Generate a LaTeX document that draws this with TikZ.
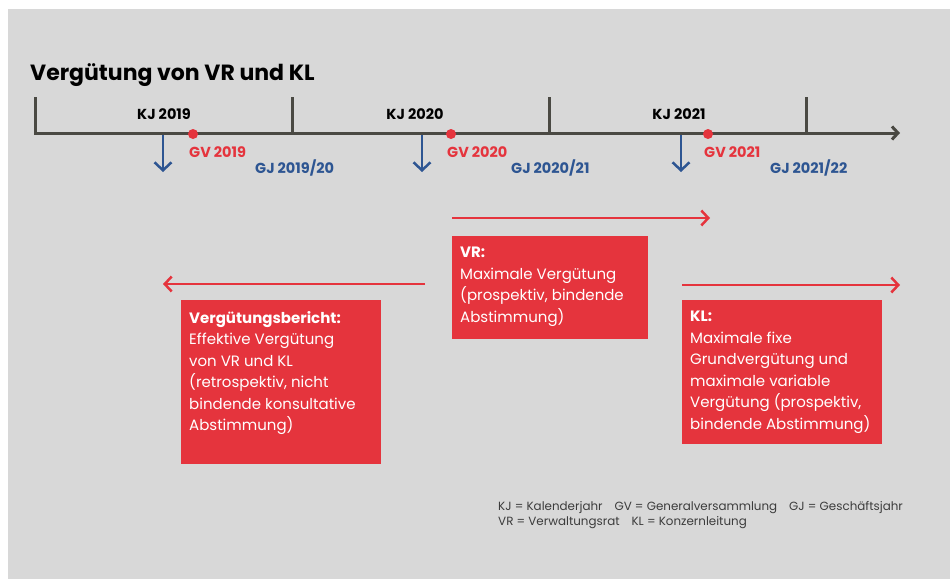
\documentclass[tikz,border=0pt]{standalone}
\usepackage{fontspec}
\setmainfont{Poppins}
\usetikzlibrary{arrows.meta,positioning}
\definecolor{bggrey}{HTML}{D8D8D8}
\definecolor{votered}{HTML}{E5343D}
\definecolor{gjblue}{HTML}{2D5592}
\definecolor{axisgrey}{HTML}{4A4943}
\definecolor{notegrey}{HTML}{3C3C3C}

\tikzset{
  axisline/.style={draw=axisgrey, line width=3pt},
  kjlabel/.style={font=\fontsize{14.5}{16}\selectfont\bfseries, anchor=base, inner sep=0pt},
  gvlabel/.style={text=votered, font=\fontsize{14.5}{16}\selectfont\bfseries, anchor=base west, inner sep=0pt},
  gjlabel/.style={text=gjblue, font=\fontsize{14.5}{16}\selectfont\bfseries, anchor=base west, inner sep=0pt},
  gvdot/.style={circle, fill=votered, inner sep=0pt, minimum size=10pt},
  gjarrow/.style={draw=gjblue, line width=2.5pt, -{Straight Barb[length=8pt,width=17pt]}},
  votearrow/.style={draw=votered, line width=2.5pt, -{Straight Barb[length=7pt,width=15pt]}},
  votebox/.style={fill=votered, inner sep=0pt, anchor=north west},
  votetext/.style={text=white, anchor=north west, align=left, inner sep=0pt, font=\fontsize{15}{21.5}\selectfont},
}

\begin{document}
\begin{tikzpicture}[x=1pt,y=-1pt]
  \useasboundingbox (0,0) rectangle (950,579);
  \fill[bggrey] (8,9) rectangle (950,579);

  \node[anchor=base west, inner sep=0pt, font=\fontsize{22}{26}\selectfont\bfseries] (title) at (30,80) {Vergütung von VR und KL};

  % time axis
  \coordinate (ax0) at (35,133);
  \coordinate (axend) at (900,133);
  \draw[axisline, -{Straight Barb[length=6pt,width=13pt]}] (ax0) -- (axend);
  \foreach \i/\x in {0/35,1/292,2/549,3/806}{
    \coordinate (tk\i) at (\x,134.5);
    \coordinate (tt\i) at (\x,97);
    \draw[axisline] (tk\i) -- (tt\i);
  }

  % years
  \foreach \i/\kx/\ax/\dx/\y in {1/164/163/193/2019, 2/415/422/451/2020, 3/679/681/708/2021}{
    \node[kjlabel] (kj\i) at (\kx,119) {KJ \y};
    \coordinate (gjstart\i) at (\ax,135);
    \coordinate (gjend\i) at (\ax,172);
    \draw[gjarrow] (gjstart\i) -- (gjend\i);
    \node[gvdot] (gvdot\i) at (\dx,134) {};
    \node[gvlabel] (gv\i) at (\dx-4,157) {GV \y};
  }
  \node[gjlabel] (gj1) at (255,173) {GJ 2019/20};
  \node[gjlabel] (gj2) at (511,173) {GJ 2020/21};
  \node[gjlabel] (gj3) at (770,173) {GJ 2021/22};

  % votes
  \node[votebox, minimum width=196pt, minimum height=103pt] (vrbox) at (452,236) {};
  \node[votetext] (vrtext) at ([shift={(8,11)}]vrbox.north west) {\textbf{VR:}\\Maximale Vergütung\\(prospektiv, bindende\\Abstimmung)};
  \coordinate (vrfrom) at (452,218);
  \coordinate (vrto) at (710,218);
  \draw[votearrow] (vrfrom) -- (vrto);

  \node[votebox, minimum width=200pt, minimum height=144pt] (klbox) at (682,300) {};
  \node[votetext] (kltext) at ([shift={(8,11)}]klbox.north west) {\textbf{KL:}\\Maximale fixe\\Grundvergütung und\\maximale variable\\Vergütung (prospektiv,\\bindende Abstimmung)};
  \coordinate (klfrom) at (682,285);
  \coordinate (klto) at (900,285);
  \draw[votearrow] (klfrom) -- (klto);

  \node[votebox, minimum width=200pt, minimum height=164pt] (vbbox) at (181,300) {};
  \node[votetext] (vbtext) at ([shift={(8,11)}]vbbox.north west) {\textbf{Vergütungsbericht:}\\Effektive Vergütung\\von VR und KL\\(retrospektiv, nicht\\bindende konsultative\\Abstimmung)};
  \coordinate (vbfrom) at (425,284);
  \coordinate (vbto) at (163,284);
  \draw[votearrow] (vbfrom) -- (vbto);

  % legend
  \node[anchor=base west, align=left, inner sep=0pt, text=notegrey, font=\fontsize{11.9}{14.5}\selectfont] (legend) at (498,525)
    {KJ = Kalenderjahr\quad GV = Generalversammlung\quad GJ = Geschäftsjahr\\VR = Verwaltungsrat\quad KL = Konzernleitung};
\end{tikzpicture}
\end{document}
